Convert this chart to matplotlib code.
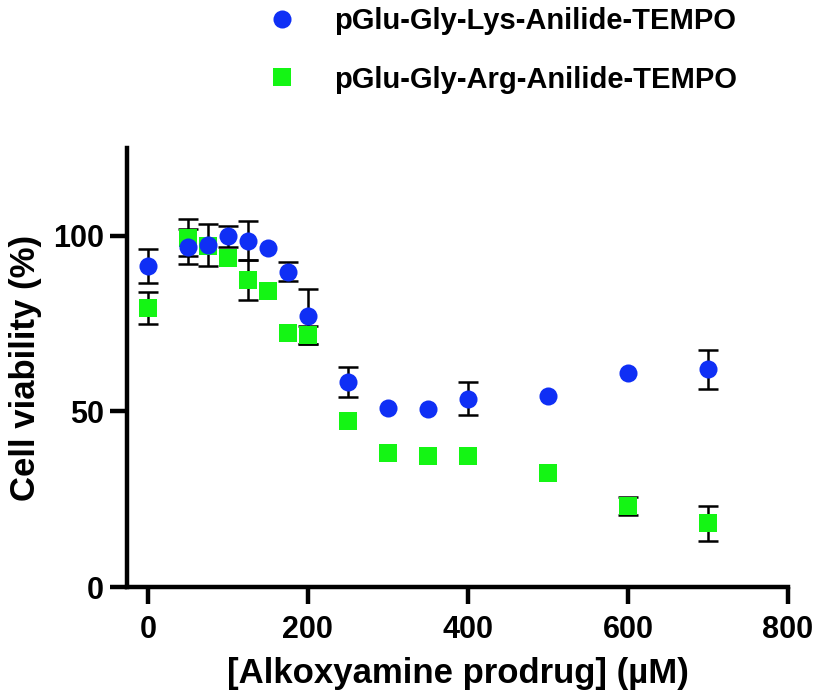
import numpy as np
import matplotlib
matplotlib.use("Agg")
import matplotlib.pyplot as plt

plt.rcParams['font.family'] = ['Liberation Sans', 'DejaVu Sans']
plt.rcParams['font.weight'] = 'bold'

# concentrations (µM)
conc = [0, 50, 75, 100, 125, 150, 175, 200, 250, 300, 350, 400, 500, 600, 700]

# pGlu-Gly-Lys-Anilide-TEMPO
lys = [91.4, 96.9, 97.4, 99.8, 98.6, 96.5, 89.8, 77.1, 58.3, 50.9, 50.8, 53.6, 54.5, 61.0, 62.0]
lys_err = [4.8, 5.0, 6.0, 3.0, 5.5, 0, 2.7, 7.8, 4.3, 0, 0, 4.7, 0, 0, 5.5]

# pGlu-Gly-Arg-Anilide-TEMPO
arg = [79.5, 99.5, 97.0, 93.8, 87.4, 84.4, 72.4, 71.8, 47.4, 38.2, 37.2, 37.4, 32.5, 23.1, 18.1]
arg_err = [4.6, 5.3, 0, 0, 5.8, 0, 0, 2.5, 0, 0, 0, 0, 0, 2.65, 5.1]

labels = ['pGlu-Gly-Lys-Anilide-TEMPO', 'pGlu-Gly-Arg-Anilide-TEMPO']
blue = '#0f2ff5'
green = '#14f514'

fig = plt.figure(figsize=(8.14, 6.98), dpi=100)
ax = fig.add_axes([0.156, 0.159, 0.812, 0.629])


def draw(x, y, err, color, marker, label):
    x = np.array(x)
    y = np.array(y)
    err = np.array(err)
    m = err > 0
    ax.errorbar(x[m], y[m], yerr=err[m], fmt='none', ecolor='black',
                elinewidth=1.8, capsize=7, capthick=1.8, zorder=2)
    line, = ax.plot(x, y, linestyle='none', marker=marker, color=color,
                    markersize=13 if marker == 'o' else 12.5, markeredgewidth=0,
                    label=label, zorder=3)
    return line


h_arg = draw(conc, arg, arg_err, green, 's', labels[1])
h_lys = draw(conc, lys, lys_err, blue, 'o', labels[0])

ax.set_xlim(-26, 800)
ax.set_ylim(0, 125)
ax.set_xticks([0, 200, 400, 600, 800])
ax.set_yticks([0, 50, 100])

for s in ['top', 'right']:
    ax.spines[s].set_visible(False)
for s in ['left', 'bottom']:
    ax.spines[s].set_linewidth(3.2)

ax.tick_params(axis='both', direction='out', length=12.5, width=3.2, labelsize=22)
ax.tick_params(axis='x', pad=8)
ax.tick_params(axis='y', pad=4)
for lab in ax.get_xticklabels() + ax.get_yticklabels():
    lab.set_fontweight('bold')

ax.set_xlabel('[Alkoxyamine prodrug] (µM)', fontsize=25, fontweight='bold', labelpad=8)
ax.set_ylabel('Cell viability (%)', fontsize=25, fontweight='bold', labelpad=8)

fig.legend(handles=[h_lys, h_arg], loc='upper left', bbox_to_anchor=(0.307, 1.015),
           borderaxespad=0.2, frameon=False, prop={'weight': 'bold', 'size': 21},
           handletextpad=1.3, labelspacing=1.05, handlelength=1.0)

fig.savefig('out.png', dpi=100)
